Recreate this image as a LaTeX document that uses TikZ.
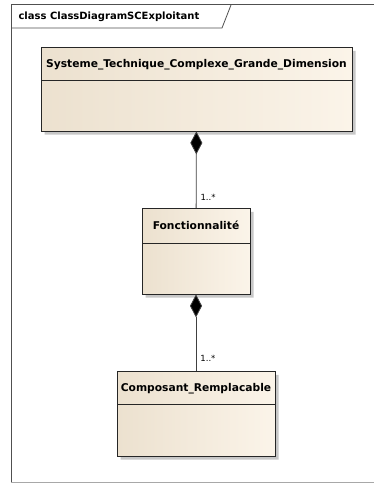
\documentclass[tikz,border=0pt]{standalone}
\usepackage{fontspec}
\setmainfont{DejaVu Sans}
\usetikzlibrary{arrows.meta}
\usetikzlibrary{shapes.multipart}
\usetikzlibrary{shadows}
\definecolor{classleft}{RGB}{236,225,207}
\definecolor{classright}{RGB}{251,244,233}
\definecolor{framegray}{RGB}{80,80,80}

\begin{document}
\begin{tikzpicture}[x=1pt,y=1pt,
    umlclass/.style={rectangle split, rectangle split parts=2, draw=black!85,
      line width=0.8pt, left color=classleft, right color=classright,
      inner xsep=0pt, inner ysep=0pt, align=center,
      font=\fontsize{10.7}{12}\selectfont\bfseries,
      drop shadow={shadow xshift=3.5pt, shadow yshift=-3.5pt, fill=black!22, opacity=1}},
    compo/.style={draw=black!75, line width=0.8pt, {Diamond[length=23pt,width=12pt]}-},
    mult/.style={font=\fontsize{8.5}{9}\selectfont, inner sep=1pt, anchor=west, xshift=3pt}]
  \useasboundingbox (0,0) rectangle (373,-484);
  %% frame
  \draw[framegray, line width=1pt] (11,-482) -- (11,-5) -- (380,-5);
  \draw[framegray!50, line width=1pt] (11,-482) -- (380,-482);
  \draw[framegray, line width=0.8pt] (11,-28) -- (222,-28) -- (231,-5);
  \node[anchor=west, font=\fontsize{10}{12}\selectfont\bfseries] (title) at (15,-16.5)
    {class ClassDiagramSCExploitant};
  %% classes
  \node[umlclass, text width=311pt, anchor=north] (stcgd) at (196.5,-47)
    {\rule[-12.5pt]{0pt}{32pt}Systeme\_Technique\_Complexe\_Grande\_Dimension
     \nodepart{two}\rule{0pt}{50pt}};
  \node[umlclass, text width=108pt, anchor=north] (fonct) at (196,-208)
    {\rule[-13.5pt]{0pt}{34pt}Fonctionnalité
     \nodepart{two}\rule{0pt}{50pt}};
  \node[umlclass, text width=158pt, anchor=north] (compo) at (196,-371)
    {\rule[-12.5pt]{0pt}{32pt}Composant\_Remplacable
     \nodepart{two}\rule{0pt}{51pt}};
  %% compositions
  \path[compo] (stcgd) edge node[mult, pos=.86] {1..*} (fonct);
  \path[compo] (fonct) edge node[mult, pos=.84] {1..*} (compo);
\end{tikzpicture}
\end{document}
